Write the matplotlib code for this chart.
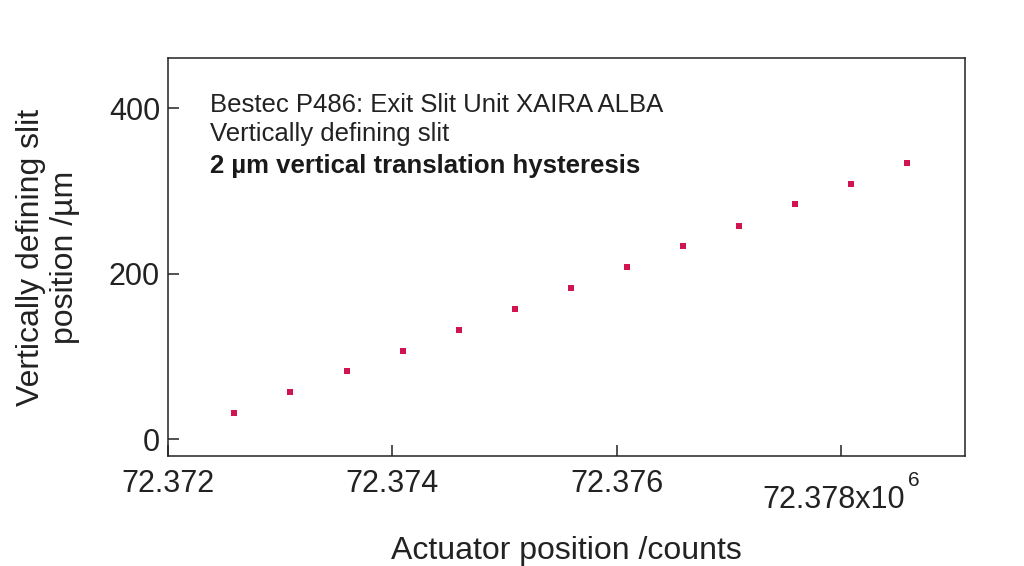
import matplotlib
matplotlib.use("Agg")
import matplotlib.pyplot as plt
import numpy as np

# Data
actuator_counts = [72372590, 72373090, 72373590, 72374090, 72374590, 72375090,
                   72375590, 72376090, 72376590, 72377090, 72377590, 72378090,
                   72378590]
slit_position_um = [31.4, 56.8, 82.0, 107.0, 132.0, 157.1, 182.5, 208.1,
                    233.0, 258.2, 284.0, 308.5, 333.9]
xtick_values = [72372000, 72374000, 72376000, 72378000]
xtick_labels = ["72.372", "72.374", "72.376", ""]
last_xtick_text = "72.378x10"
last_xtick_exponent = "6"
ytick_values = [0, 200, 400]
ytick_labels = ["0", "200", "400"]
annotation_lines = ["Bestec P486: Exit Slit Unit XAIRA ALBA",
                    "Vertically defining slit",
                    "2 µm vertical translation hysteresis"]

plt.rcParams['font.family'] = ['Liberation Sans', 'DejaVu Sans']

TXT = '#222222'
fig = plt.figure(figsize=(10.24, 5.66), dpi=100)
ax = fig.add_axes([0.1644, 0.1943, 0.9424 - 0.1644, 0.897 - 0.1943])

ax.plot(actuator_counts, slit_position_um, linestyle='none', marker='s',
        markersize=3.9, color='#cf1450', markeredgewidth=0)

ax.set_xlim(72372000, 72379110)
ax.set_ylim(-20.2, 460.4)

ax.set_xticks(xtick_values)
ax.set_xticklabels(xtick_labels)
ax.set_yticks(ytick_values)
ax.set_yticklabels(ytick_labels)

ax.tick_params(direction='in', length=8, width=1.1, labelsize=22,
               colors=TXT, labelcolor=TXT)
ax.tick_params(axis='x', pad=9)
ax.tick_params(axis='y', pad=6)
for s in ax.spines.values():
    s.set_linewidth(1.1)
    s.set_color(TXT)

# last x tick label with exponent, drawn lower as in the reference
ax.annotate(last_xtick_text, xy=(xtick_values[-1], 0),
            xycoords=('data', 'axes fraction'), xytext=(-5, -21),
            textcoords='offset points', ha='center', va='top',
            fontsize=22, color=TXT, annotation_clip=False)
ax.annotate(last_xtick_exponent, xy=(xtick_values[-1], 0),
            xycoords=('data', 'axes fraction'), xytext=(48.5, -11),
            textcoords='offset points', ha='left', va='top',
            fontsize=15, color=TXT, annotation_clip=False)

ax.set_xlabel("Actuator position /counts", fontsize=23, color=TXT)
ax.xaxis.set_label_coords(0.5, -0.2)
ax.set_ylabel("Vertically defining slit\nposition /µm", fontsize=23,
              color=TXT, linespacing=1.17)
ax.yaxis.set_label_coords(-0.111, 0.5)

ys = [0.883, 0.810, 0.729]
for i, (t, y) in enumerate(zip(annotation_lines, ys)):
    ax.text(0.052, y, t, transform=ax.transAxes, fontsize=18.5,
            color='#1a1a1a' if i == 2 else TXT,
            fontweight='bold' if i == 2 else 'normal',
            va='center', ha='left')

fig.savefig("out.png", dpi=100)
